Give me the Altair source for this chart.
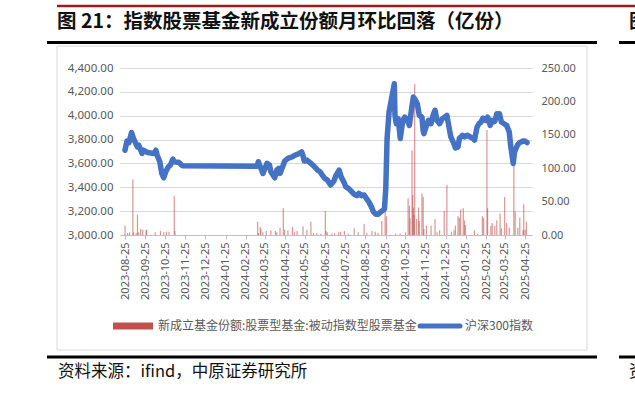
import altair as alt
import pandas as pd

# ---------------- data ----------------
line_dates = [
    "2023-08-25", "2023-08-28", "2023-08-31", "2023-09-04", "2023-09-07", "2023-09-11",
    "2023-09-13", "2023-09-15", "2023-09-20", "2023-09-22", "2023-09-27", "2023-09-28",
    "2023-10-09", "2023-10-11", "2023-10-13", "2023-10-17", "2023-10-20", "2023-10-23",
    "2023-10-26", "2023-10-30", "2023-11-02", "2023-11-06", "2023-11-08", "2023-11-13",
    "2023-11-15", "2023-11-20",
    "2024-03-13", "2024-03-15", "2024-03-19", "2024-03-22", "2024-03-28", "2024-04-01",
    "2024-04-03", "2024-04-09", "2024-04-12", "2024-04-15", "2024-04-17", "2024-04-22",
    "2024-04-24", "2024-04-29", "2024-05-06", "2024-05-08", "2024-05-10", "2024-05-13",
    "2024-05-16", "2024-05-20", "2024-05-22", "2024-05-24", "2024-05-28", "2024-06-03",
    "2024-06-06", "2024-06-11", "2024-06-13", "2024-06-17", "2024-06-21", "2024-06-24",
    "2024-06-28", "2024-07-03", "2024-07-08", "2024-07-11", "2024-07-16", "2024-07-19",
    "2024-07-24", "2024-07-26", "2024-07-30", "2024-08-05", "2024-08-08", "2024-08-12",
    "2024-08-15", "2024-08-19", "2024-08-23", "2024-08-27", "2024-08-30", "2024-09-03",
    "2024-09-06", "2024-09-10", "2024-09-13", "2024-09-18", "2024-09-23", "2024-09-25",
    "2024-09-27", "2024-09-30", "2024-10-08", "2024-10-09", "2024-10-11", "2024-10-14",
    "2024-10-17", "2024-10-21", "2024-10-24", "2024-10-28", "2024-10-31", "2024-11-04",
    "2024-11-06", "2024-11-08", "2024-11-12", "2024-11-15", "2024-11-19", "2024-11-21",
    "2024-11-22", "2024-11-26", "2024-11-29", "2024-12-03", "2024-12-06", "2024-12-09",
    "2024-12-12", "2024-12-16", "2024-12-20", "2024-12-24", "2024-12-27",
    "2025-01-02", "2025-01-06", "2025-01-09", "2025-01-13", "2025-01-15", "2025-01-20",
    "2025-01-23", "2025-01-27", "2025-02-05", "2025-02-07", "2025-02-11", "2025-02-14",
    "2025-02-17", "2025-02-20", "2025-02-24", "2025-02-27", "2025-03-03", "2025-03-05",
    "2025-03-07", "2025-03-10", "2025-03-13", "2025-03-17", "2025-03-20", "2025-03-24",
    "2025-03-28", "2025-04-01", "2025-04-03", "2025-04-07", "2025-04-09", "2025-04-14",
    "2025-04-17", "2025-04-22", "2025-04-25", "2025-04-28",
]
line_values = [
    3711, 3787, 3775, 3859, 3809, 3759,
    3739, 3753, 3684, 3711, 3697, 3692,
    3684, 3711, 3669, 3614, 3516, 3480,
    3530, 3572, 3586, 3636, 3614, 3609,
    3609, 3581,
    3577, 3614, 3558, 3516, 3600, 3586,
    3530, 3480, 3544, 3558, 3516, 3586,
    3620, 3642, 3656, 3664, 3670, 3675,
    3684, 3697, 3664, 3620, 3628, 3600,
    3586, 3558, 3544, 3530, 3497, 3475,
    3461, 3419, 3453, 3497, 3544, 3488,
    3433, 3405, 3391, 3358, 3341, 3330,
    3349, 3330, 3336, 3302, 3280, 3238,
    3196, 3174, 3174, 3196, 3218, 3391,
    3809, 4032, 4268, 4003, 3933, 3975,
    3809, 3961, 3989, 3961, 3919, 4086,
    4156, 4142, 4100, 4003, 3989, 3870,
    3850, 3919, 3961, 3933, 4003, 4045,
    3961, 3933, 3975, 3989, 4003,
    3822, 3775, 3730, 3739, 3809, 3836,
    3822, 3836, 3809, 3795, 3905, 3933,
    3947, 3980, 3961, 3989, 3919, 3961,
    3947, 3952, 4017, 4017, 3947, 3933,
    3919, 3864, 3753, 3600, 3697, 3759,
    3775, 3787, 3787, 3775,
]

bar_dates = [
    "2023-08-25", "2023-08-29", "2023-09-01", "2023-09-06", "2023-09-07", "2023-09-11",
    "2023-09-13", "2023-09-15", "2023-09-18", "2023-09-21", "2023-09-26", "2023-09-27",
    "2023-10-10", "2023-10-18", "2023-10-23", "2023-10-27", "2023-10-31", "2023-11-08",
    "2023-11-09",
    "2024-03-14", "2024-03-15", "2024-03-18", "2024-03-19", "2024-03-22", "2024-03-27",
    "2024-04-03", "2024-04-10", "2024-04-12", "2024-04-17", "2024-04-22", "2024-04-24",
    "2024-04-29", "2024-05-06", "2024-05-09", "2024-05-13", "2024-05-22", "2024-05-28",
    "2024-06-03", "2024-06-07", "2024-06-12", "2024-06-18", "2024-06-25", "2024-06-26",
    "2024-06-28", "2024-07-05", "2024-07-09", "2024-07-15", "2024-07-18", "2024-07-24",
    "2024-07-30", "2024-08-08", "2024-08-14", "2024-08-23", "2024-08-27", "2024-09-04",
    "2024-09-09", "2024-09-13", "2024-09-19", "2024-09-24", "2024-09-26", "2024-10-10",
    "2024-10-17", "2024-10-25", "2024-10-29", "2024-10-31", "2024-11-01", "2024-11-04",
    "2024-11-05", "2024-11-06", "2024-11-07", "2024-11-08", "2024-11-11", "2024-11-14",
    "2024-11-15", "2024-11-19", "2024-11-21", "2024-11-22", "2024-11-26", "2024-12-03",
    "2024-12-09", "2024-12-12", "2024-12-16", "2024-12-23", "2024-12-27",
    "2025-01-03", "2025-01-07", "2025-01-09", "2025-01-13", "2025-01-15", "2025-01-17",
    "2025-01-21", "2025-01-23", "2025-01-24", "2025-02-07", "2025-02-12", "2025-02-19",
    "2025-02-21", "2025-02-26", "2025-02-27", "2025-03-04", "2025-03-06", "2025-03-10",
    "2025-03-13", "2025-03-18", "2025-03-20", "2025-03-25", "2025-03-28", "2025-04-01",
    "2025-04-08", "2025-04-10", "2025-04-14", "2025-04-17", "2025-04-22", "2025-04-23",
    "2025-04-25", "2025-04-27",
]
bar_values = [
    14, 3, 4, 83, 4, 3,
    30, 4, 9, 8, 7, 8,
    4, 6, 4, 5, 5, 58,
    6,
    20, 3, 12, 9, 4, 6,
    7, 6, 4, 11, 40, 8,
    7, 12, 4, 6, 13, 8,
    20, 3, 3, 2, 36, 6,
    4, 2, 3, 4, 5, 6,
    2, 10, 4, 17, 3, 6,
    5, 3, 21, 36, 28, 2,
    2, 4, 55, 44, 25, 127,
    60, 41, 30, 226, 24, 41,
    21, 62, 57, 9, 14, 14,
    24, 4, 7, 36, 75,
    5, 7, 14, 28, 26, 38,
    40, 22, 15, 7, 2, 28,
    26, 157, 40, 14, 18, 14,
    22, 32, 10, 57, 18, 11,
    104, 35, 11, 26, 7, 46,
    8, 20,
]

tick_labels = [
    "2023-08-25", "2023-09-25", "2023-10-25", "2023-11-25", "2023-12-25", "2024-01-25",
    "2024-02-25", "2024-03-25", "2024-04-25", "2024-05-25", "2024-06-25", "2024-07-25",
    "2024-08-25", "2024-09-25", "2024-10-25", "2024-11-25", "2024-12-25", "2025-01-25",
    "2025-02-25", "2025-03-25", "2025-04-25",
]
left_ticks = [3000, 3200, 3400, 3600, 3800, 4000, 4200, 4400]
right_ticks = [0, 50, 100, 150, 200, 250]

TITLE = "图 21：指数股票基金新成立份额月环比回落（亿份）"
SOURCE = "资料来源：ifind，中原证券研究所"
BAR_NAME = "新成立基金份额:股票型基金:被动指数型股票基金"
LINE_NAME = "沪深300指数"

# ---------------- chart ----------------
line_df = pd.DataFrame({"date": line_dates, "value": line_values})
bar_df = pd.DataFrame({"date": bar_dates, "value": bar_values})


def dt(s):
    y, m, d = (int(p) for p in s.split("-"))
    return alt.DateTime(year=y, month=m, date=d, utc=True)


BLUE = "#4472C4"
RED = "#C0504D"
GRAY_TXT = "#595959"
CJK = "Noto Sans CJK SC"
NUM = "Noto Sans"

x_enc = alt.X(
    "date:T",
    scale=alt.Scale(type="utc", domain=[dt("2023-08-25"), dt("2025-04-28")]),
    axis=alt.Axis(
        values=[dt(s) for s in tick_labels],
        format="%Y-%m-%d",
        labelAngle=-90,
        labelFont=NUM,
        labelFontSize=11,
        labelColor=GRAY_TXT,
        labelPadding=3,
        tickSize=4,
        tickColor="#BFBFBF",
        domainColor="#BFBFBF",
        grid=False,
        title=None,
        labelOverlap=False,
    ),
)

one = alt.Data(values=[{"k": 1}])

frame = alt.Chart(one).mark_rect(
    fill="white", fillOpacity=0, stroke="#D9D9D9", strokeWidth=1
).encode(x=alt.value(-63), x2=alt.value(467), y=alt.value(-22), y2=alt.value(282))

bars = alt.Chart(bar_df).mark_bar(size=1.2, color=RED, opacity=0.6).encode(
    x=x_enc,
    y=alt.Y(
        "value:Q",
        scale=alt.Scale(domain=[0, 250], nice=False),
        axis=alt.Axis(
            orient="right",
            values=right_ticks,
            format=".2f",
            grid=False,
            domain=False,
            ticks=False,
            labelPadding=9,
            labelFont=NUM,
            labelFontSize=11,
            labelColor=GRAY_TXT,
            title=None,
        ),
    ),
)

line = alt.Chart(line_df).mark_line(
    color=BLUE, strokeWidth=5.5, strokeJoin="round", strokeCap="round"
).encode(
    x=x_enc,
    y=alt.Y(
        "value:Q",
        scale=alt.Scale(domain=[3000, 4400], nice=False),
        axis=alt.Axis(
            orient="left",
            values=left_ticks,
            format=",.2f",
            grid=True,
            gridColor="#D9D9D9",
            domain=False,
            ticks=False,
            labelPadding=7,
            labelFont=NUM,
            labelFontSize=11.5,
            labelColor=GRAY_TXT,
            title=None,
        ),
    ),
)


def hrule(x1, x2, y, color, w):
    return alt.Chart(one).mark_rule(color=color, strokeWidth=w).encode(
        x=alt.value(x1), x2=alt.value(x2), y=alt.value(y)
    )


def text(t, x, y, size, color, weight="normal", font=CJK):
    return alt.Chart(one).mark_text(
        text=t, align="left", baseline="middle", fontSize=size,
        font=font, fontWeight=weight, color=color
    ).encode(x=alt.value(x), y=alt.value(y))


decor = [
    hrule(-63, 515, -62, "#9B1C1C", 2.5),
    hrule(-73, 477, -25.5, "#000000", 3),
    hrule(499, 515, -25.5, "#000000", 3),
    hrule(-73, 477, 289, "#000000", 3),
    hrule(499, 515, 289, "#000000", 3),
    text(TITLE, -63, -46, 19.5, "#111111", "bold"),
    text("图", 509, -46, 19.5, "#111111", "bold"),
    text(SOURCE, -62, 304, 16.5, "#111111"),
    text("资", 509, 304, 16.5, "#111111"),
    # legend
    alt.Chart(one).mark_rect(color=RED).encode(
        x=alt.value(-7), x2=alt.value(33), y=alt.value(254.5), y2=alt.value(261.5)
    ),
    text(BAR_NAME, 38, 258, 12, GRAY_TXT),
    alt.Chart(one).mark_rule(color=BLUE, strokeWidth=5, strokeCap="round").encode(
        x=alt.value(300), x2=alt.value(340), y=alt.value(258)
    ),
    text(LINE_NAME, 345, 258, 12, GRAY_TXT),
]

chart = (
    alt.layer(frame, bars, line, *decor)
    .resolve_scale(y="independent")
    .properties(
        width=412,
        height=167,
        padding={"left": 120, "top": 68, "right": 103, "bottom": 160},
        autosize=alt.AutoSizeParams(type="none"),
        background="white",
    )
    .configure_view(strokeWidth=0)
)

chart.save("out.html", embed_options={"renderer": "svg", "actions": False})
